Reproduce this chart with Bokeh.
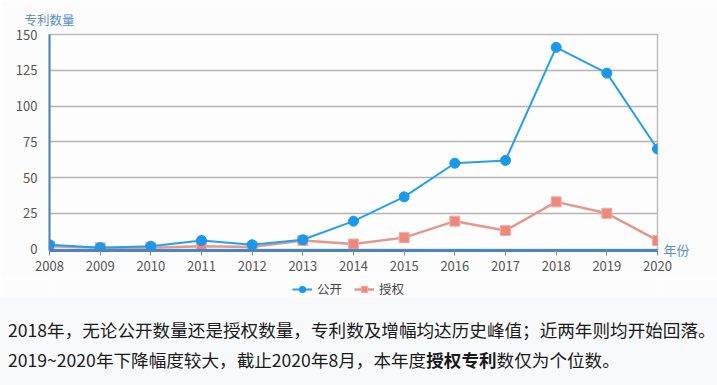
from bokeh.plotting import figure
from bokeh.models import (ColumnDataSource, Legend, LegendItem, Div,
                          FixedTicker, Range1d, LinearAxis)
from bokeh.layouts import column
from bokeh.embed import file_html
from bokeh.resources import INLINE

years = [2008, 2009, 2010, 2011, 2012, 2013, 2014, 2015, 2016, 2017, 2018, 2019, 2020]
published = [3, 1, 2, 6, 3, 6.5, 19.5, 36.5, 60, 62, 141, 123, 70]
granted = [2, 1, 1, 2, 1.5, 6, 3.5, 8, 19.5, 13, 33, 25, 6]
y_ticks = [0, 25, 50, 75, 100, 125, 150]
series_names = ["公开", "授权"]
y_name = "专利数量"
x_name = "年份"
note_line1 = "2018年，无论公开数量还是授权数量，专利数及增幅均达历史峰值；近两年则均开始回落。"
note_line2_a = "2019~2020年下降幅度较大，截止2020年8月，本年度"
note_line2_b = "授权专利"
note_line2_c = "数仅为个位数。"

FONT = "Noto Sans CJK SC"
BLUE = "#25a0ee"
SALMON = "#e6978d"
AXIS_BLUE = "#4a86bd"
NAME_BLUE = "#5b8fc4"
BG = "#fcfcfd"

src = ColumnDataSource(dict(year=years, pub=published, gra=granted))


def draw_series(fig):
    l2 = fig.line("year", "gra", source=src, line_color=SALMON, line_width=2.5)
    s2 = fig.scatter("year", "gra", source=src, marker="square", size=10,
                     fill_color="#ec887c", line_color="#f2aca4", line_width=1)
    l1 = fig.line("year", "pub", source=src, line_color=BLUE, line_width=2)
    s1 = fig.scatter("year", "pub", source=src, marker="circle", size=10,
                     fill_color="#1a98ec", line_color="#1a98ec")
    return l1, s1, l2, s2


p = figure(width=717, height=278, output_backend="svg", toolbar_location=None,
           x_range=Range1d(years[0], years[-1]), y_range=Range1d(-1, y_ticks[-1]),
           min_border_left=49, min_border_right=60, min_border_top=34,
           min_border_bottom=28)
p.background_fill_color = "#fdfdfe"
p.border_fill_color = BG
p.outline_line_color = "#bdbdbd"
p.outline_line_width = 1.5

p.xgrid.grid_line_color = None
p.ygrid.grid_line_color = "#b4b4b4"
p.ygrid.grid_line_width = 1.5
p.ygrid.ticker = FixedTicker(ticks=y_ticks)

p.yaxis.ticker = FixedTicker(ticks=y_ticks)
p.yaxis.axis_line_color = AXIS_BLUE
p.yaxis.axis_line_width = 2
p.yaxis.major_tick_line_color = None
p.yaxis.minor_tick_line_color = None
p.yaxis.major_label_standoff = 6
p.yaxis.major_label_text_font = FONT
p.yaxis.major_label_text_font_size = "13px"
p.yaxis.major_label_text_color = "#555555"

p.xaxis.ticker = FixedTicker(ticks=years)
p.xaxis.axis_line_color = AXIS_BLUE
p.xaxis.axis_line_width = 3
p.xaxis.major_tick_line_color = "#6a8fb5"
p.xaxis.major_tick_out = 5
p.xaxis.major_tick_in = 0
p.xaxis.minor_tick_line_color = None
p.xaxis.major_label_standoff = 5
p.xaxis.major_label_text_font = FONT
p.xaxis.major_label_text_font_size = "13px"
p.xaxis.major_label_text_color = "#555555"

# axis names drawn as single-tick axes outside the frame
name_top = LinearAxis(ticker=FixedTicker(ticks=[years[0]]),
                      major_label_overrides={years[0]: y_name},
                      axis_line_color=None, major_tick_line_color=None,
                      minor_tick_line_color=None, major_label_standoff=0,
                      major_label_text_font=FONT, major_label_text_font_size="12.5px",
                      major_label_text_color=NAME_BLUE)
p.add_layout(name_top, "above")
name_right = LinearAxis(ticker=FixedTicker(ticks=[0]),
                        major_label_overrides={0: x_name},
                        axis_line_color=None, major_tick_line_color=None,
                        minor_tick_line_color=None, major_label_standoff=0,
                        major_label_text_font=FONT, major_label_text_font_size="13px",
                        major_label_text_color=NAME_BLUE)
p.add_layout(name_right, "right")

draw_series(p)

# legend strip: same series, drawn out of view so only the legend shows
lg = figure(width=717, height=20, output_backend="svg", toolbar_location=None,
            x_range=Range1d(0, 1), y_range=Range1d(0, 1),
            min_border_left=0, min_border_right=0, min_border_top=0,
            min_border_bottom=0)
lg.axis.visible = False
lg.grid.visible = False
lg.outline_line_color = None
lg.background_fill_color = BG
lg.border_fill_color = BG
ll1, ls1, ll2, ls2 = draw_series(lg)
legend = Legend(items=[LegendItem(label=series_names[0], renderers=[ll1, ls1]),
                       LegendItem(label=series_names[1], renderers=[ll2, ls2])],
                orientation="horizontal", location=(243, 0),
                padding=0, margin=0, spacing=12, label_standoff=5,
                glyph_width=20, glyph_height=16,
                border_line_color=None, background_fill_alpha=0,
                label_text_font=FONT, label_text_font_size="12.5px",
                label_text_color="#444444")
lg.add_layout(legend, "center")

div = Div(text=(f"<div>{note_line1}</div>"
                f"<div>{note_line2_a}<b>{note_line2_b}</b>{note_line2_c}</div>"),
          width=717, height=87,
          styles={"font-family": FONT, "font-size": "17.6px", "line-height": "30px",
                  "color": "#1a1a1a", "background-color": "#f8f9fb",
                  "white-space": "nowrap", "padding-top": "17px",
                  "padding-left": "8px", "box-sizing": "border-box", "margin": "0"})

layout = column(p, lg, div, spacing=0)
open("out.html", "w").write(file_html(layout, INLINE))
